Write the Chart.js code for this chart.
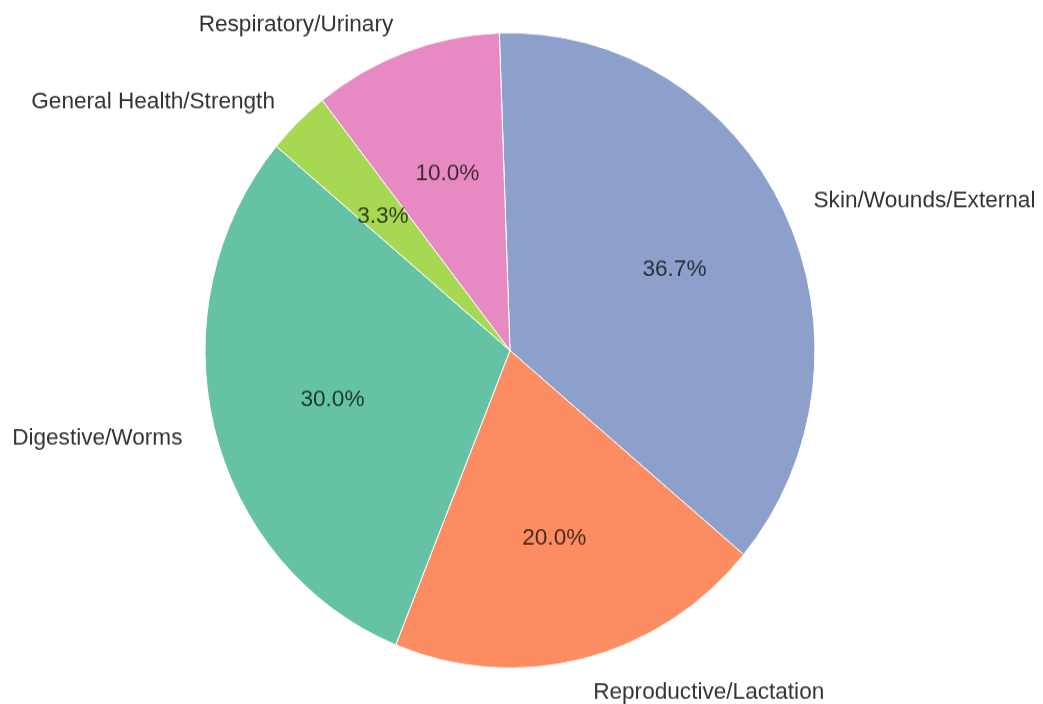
<!DOCTYPE html>
<html>
<head>
<meta charset="utf-8">
<script src="https://cdn.jsdelivr.net/npm/chart.js@4"></script>
<style>
  body { margin: 0; background: #fff; }
</style>
</head>
<body>
<!-- the original picture is a little taller than wide, so the canvas is stretched a bit -->
<canvas id="pie" width="1043" height="676" style="width:1043px;height:704px"></canvas>
<script>
// clockwise from the top
const categories = ['Skin/Wounds/External', 'Reproductive/Lactation', 'Digestive/Worms', 'General Health/Strength', 'Respiratory/Urinary']
const counts = [11, 6, 9, 1, 3]
const colors = ['#8da0cb', '#fc8d62', '#66c2a5', '#a6d854', '#e78ac3']

const total = counts.reduce((a, b) => a + b, 0)

let sliceLabels = {
    id: 'sliceLabels',
    afterDatasetsDraw(chart) {
        let ctx = chart.ctx
        let arcs = chart.getDatasetMeta(0).data
        ctx.save()
        ctx.font = '22.6px "Liberation Sans", Arial, sans-serif'
        ctx.textBaseline = 'middle'
        arcs.forEach(function(arc, i) {
            let p = arc.getProps(['x', 'y', 'startAngle', 'endAngle', 'outerRadius'], true)
            let mid = (p.startAngle + p.endAngle) / 2
            let c = Math.cos(mid), s = Math.sin(mid)

            // name outside
            ctx.fillStyle = '#333333'
            ctx.textAlign = c > 0 ? 'left' : 'right'
            let nudge = c > 0 ? 2 : -2
            ctx.fillText(categories[i], p.x + c * p.outerRadius * 1.1 + nudge, p.y + s * p.outerRadius * 1.1 + 3)

            // percentage inside
            ctx.fillStyle = 'rgba(0,0,0,0.72)'
            ctx.textAlign = 'center'
            let pct = (counts[i] / total * 100).toFixed(1) + '%'
            ctx.fillText(pct, p.x + c * p.outerRadius * 0.6, p.y + s * p.outerRadius * 0.6 + 2.5)
        })
        ctx.restore()
    }
}

new Chart(document.getElementById('pie'), {
    type: 'pie',
    data: {
        labels: categories,
        datasets: [{
            data: counts,
            backgroundColor: colors,
            borderColor: '#ffffff',
            borderWidth: 1
        }]
    },
    options: {
        responsive: false,
        devicePixelRatio: 1,
        animation: false,
        events: [],
        rotation: -2,
        layout: {
            padding: { top: 31, bottom: 34, left: 200, right: 223 }
        },
        plugins: {
            legend: { display: false },
            tooltip: { enabled: false }
        }
    },
    plugins: [sliceLabels]
})
</script>
</body>
</html>
